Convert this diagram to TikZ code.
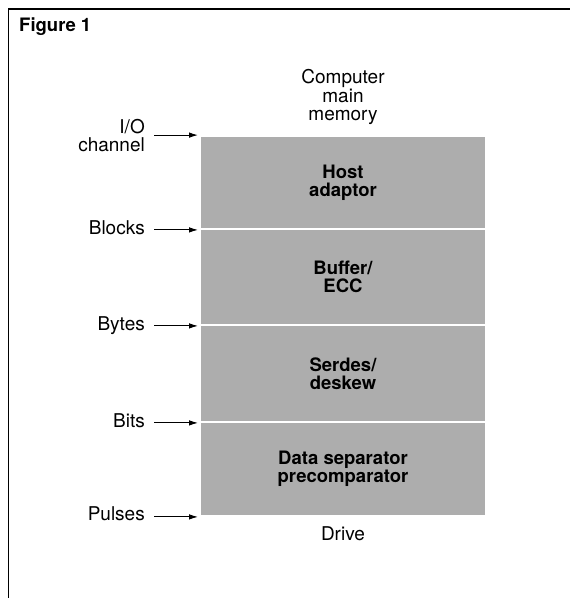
\documentclass[tikz,border=0pt]{standalone}
\usepackage{fontspec}
\setmainfont{TeX Gyre Heros}
\usetikzlibrary{arrows.meta}
\begin{document}
\begin{tikzpicture}[x=1pt,y=-1pt,
  lbl/.style={font=\fontsize{19}{17.5}\selectfont, align=center, inner sep=0pt},
  sidelbl/.style={font=\fontsize{19}{18}\selectfont, align=right, inner sep=0pt, anchor=east},
  stage/.style={fill=black!32, draw=white, line width=1.8pt, minimum width=286pt, inner sep=0pt,
     font=\bfseries\fontsize{18.5}{18}\selectfont, align=center},
  arr/.style={-{Latex[length=9pt,width=5.5pt]}, line width=1.1pt, shorten <=9pt}
]
\useasboundingbox (0,0) rectangle (570,598);
% frame
\draw[line width=1.8pt] (570,9) -- (8.5,9) -- (8.5,598);
\node[anchor=west, inner sep=0pt, font=\bfseries\fontsize{18.5}{18}\selectfont] (fig) at (19,27) {Figure 1};

% stages
\node[stage, minimum height=93pt] (host) at (343,182.5) {Host\\adaptor};
\node[stage, minimum height=96pt] (buf) at (343,277) {Buffer/\\ECC};
\node[stage, minimum height=97pt] (ser) at (343,373.5) {Serdes/\\deskew};
\node[stage, minimum height=94pt] (sep) at (343,469) {Data separator\\precomparator};

% top / bottom labels
\node[lbl] (mem) at (343,97) {Computer\\main\\memory};
\node[lbl] (drive) at (343,534) {Drive};

% side labels
\node[sidelbl] (io) at (145,136) {I/O\\channel};
\node[sidelbl] (blocks) at (145,228) {Blocks};
\node[sidelbl] (bytes) at (145,326) {Bytes};
\node[sidelbl] (bits) at (145,421) {Bits};
\node[sidelbl] (pulses) at (145,514) {Pulses};

% arrows
\draw[arr] (io.east |- host.north west) -- ([xshift=-1pt]host.north west);
\draw[arr] (blocks.east |- host.south west) -- ([xshift=-1pt]host.south west);
\draw[arr] (bytes.east |- buf.south west) -- ([xshift=-1pt]buf.south west);
\draw[arr] (bits.east |- ser.south west) -- ([xshift=-1pt]ser.south west);
\draw[arr] (pulses.east |- sep.south west) -- ([xshift=-1pt]sep.south west);
\end{tikzpicture}
\end{document}
